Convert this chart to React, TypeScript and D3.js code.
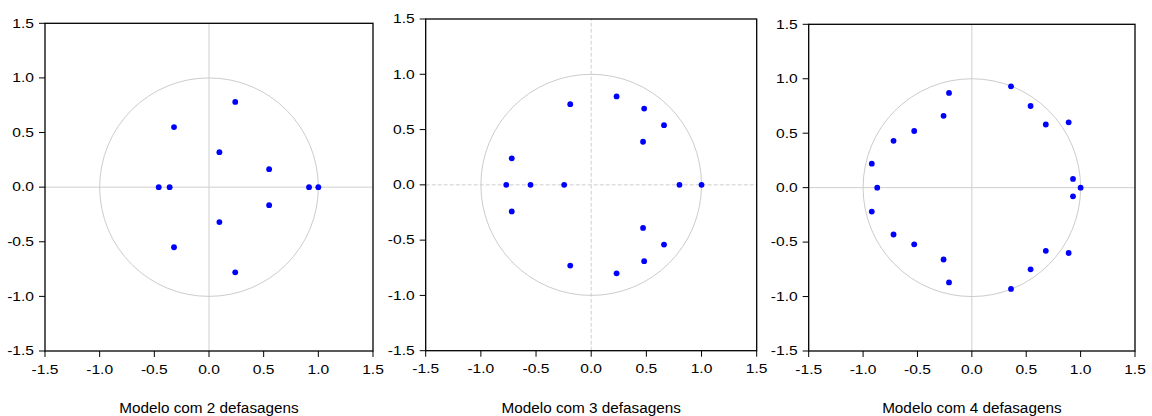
import React, { useEffect, useRef } from 'react';
import * as d3 from 'd3';

// Inverse roots of the AR characteristic polynomial, [real, imaginary]
const roots2: [number, number][] = [
  [0.24, 0.78], [0.24, -0.78], [-0.32, 0.55], [-0.32, -0.55],
  [0.095, 0.32], [0.095, -0.32], [0.55, 0.165], [0.55, -0.165],
  [-0.46, 0], [-0.36, 0], [0.915, 0], [1.0, 0],
];

const roots3: [number, number][] = [
  [0.23, 0.8], [0.23, -0.8], [-0.19, 0.73], [-0.19, -0.73],
  [0.48, 0.69], [0.48, -0.69], [0.66, 0.54], [0.66, -0.54],
  [0.47, 0.39], [0.47, -0.39], [-0.72, 0.24], [-0.72, -0.24],
  [-0.77, 0], [-0.55, 0], [-0.245, 0], [0.8, 0], [1.0, 0],
];

const roots4: [number, number][] = [
  [0.36, 0.93], [0.36, -0.93], [0.54, 0.75], [0.54, -0.75],
  [0.68, 0.58], [0.68, -0.58], [0.89, 0.6], [0.89, -0.6],
  [0.93, 0.08], [0.93, -0.08], [1.0, 0],
  [-0.21, 0.87], [-0.21, -0.87], [-0.26, 0.66], [-0.26, -0.66],
  [-0.53, 0.52], [-0.53, -0.52], [-0.72, 0.43], [-0.72, -0.43],
  [-0.92, 0.22], [-0.92, -0.22], [-0.87, 0],
];

const titles = ['Modelo com 2 defasagens', 'Modelo com 3 defasagens', 'Modelo com 4 defasagens'];
const ticks = [-1.5, -1.0, -0.5, 0.0, 0.5, 1.0, 1.5];

const panels = [
  { roots: roots2, title: titles[0], left: 45, right: 373, top: 23.3, bottom: 351, dashed: false },
  { roots: roots3, title: titles[1], left: 425.7, right: 756.7, top: 19, bottom: 350.7, dashed: true },
  { roots: roots4, title: titles[2], left: 808.7, right: 1135, top: 24.3, bottom: 351, dashed: false },
];

const FONT = 'Arial, "Liberation Sans", sans-serif';

export default function App() {
  const svgRef = useRef<SVGSVGElement>(null);

  useEffect(() => {
    document.body.style.margin = '0';
    if (!svgRef.current) return;
    const svg = d3.select(svgRef.current);
    svg.selectAll('*').remove();

    panels.forEach((p) => {
      const x = d3.scaleLinear().domain([-1.5, 1.5]).range([p.left, p.right]);
      const y = d3.scaleLinear().domain([-1.5, 1.5]).range([p.bottom, p.top]);
      const g = svg.append('g');
      const dash = p.dashed ? '4,2' : null;

      // zero lines
      g.append('line')
        .attr('x1', x(-1.5)).attr('x2', x(1.5)).attr('y1', y(0)).attr('y2', y(0))
        .attr('stroke', '#cfcfcf').attr('stroke-width', 1).attr('stroke-dasharray', dash);
      g.append('line')
        .attr('x1', x(0)).attr('x2', x(0)).attr('y1', y(-1.5)).attr('y2', y(1.5))
        .attr('stroke', '#cfcfcf').attr('stroke-width', 1).attr('stroke-dasharray', dash);

      // unit circle
      g.append('ellipse')
        .attr('cx', x(0)).attr('cy', y(0))
        .attr('rx', x(1) - x(0)).attr('ry', y(0) - y(1))
        .attr('fill', 'none').attr('stroke', '#cccccc').attr('stroke-width', 1);

      // roots
      g.selectAll('circle.root')
        .data(p.roots)
        .enter().append('circle')
        .attr('class', 'root')
        .attr('cx', (d) => x(d[0]))
        .attr('cy', (d) => y(d[1]))
        .attr('r', 2.9)
        .attr('fill', '#0000ff');

      // frame
      g.append('rect')
        .attr('x', x(-1.5)).attr('y', y(1.5))
        .attr('width', x(1.5) - x(-1.5)).attr('height', y(-1.5) - y(1.5))
        .attr('fill', 'none').attr('stroke', '#000').attr('stroke-width', 1.3);

      // y ticks
      ticks.forEach((t) => {
        g.append('line')
          .attr('x1', x(-1.5) - 6).attr('x2', x(-1.5)).attr('y1', y(t)).attr('y2', y(t))
          .attr('stroke', '#000').attr('stroke-width', 1);
        g.append('text')
          .attr('transform', `translate(${x(-1.5) - 11},${y(t) + 4.3}) scale(1.3,1)`)
          .attr('text-anchor', 'end')
          .style('font-family', FONT).style('font-size', '12px').attr('fill', '#000')
          .text(t.toFixed(1));
      });

      // x ticks
      ticks.forEach((t) => {
        g.append('line')
          .attr('x1', x(t)).attr('x2', x(t)).attr('y1', y(-1.5)).attr('y2', y(-1.5) + 6)
          .attr('stroke', '#000').attr('stroke-width', 1);
        g.append('text')
          .attr('transform', `translate(${x(t)},${y(-1.5) + 22.5}) scale(1.3,1)`)
          .attr('text-anchor', 'middle')
          .style('font-family', FONT).style('font-size', '12px').attr('fill', '#000')
          .text(t.toFixed(1));
      });

      // title
      g.append('text')
        .attr('x', x(0)).attr('y', 413)
        .attr('text-anchor', 'middle')
        .style('font-family', FONT).style('font-size', '15.3px').attr('fill', '#000')
        .text(p.title);
    });
  }, []);

  return (
    <svg ref={svgRef} width={1152} height={416} style={{ display: 'block', background: '#fff' }} />
  );
}
